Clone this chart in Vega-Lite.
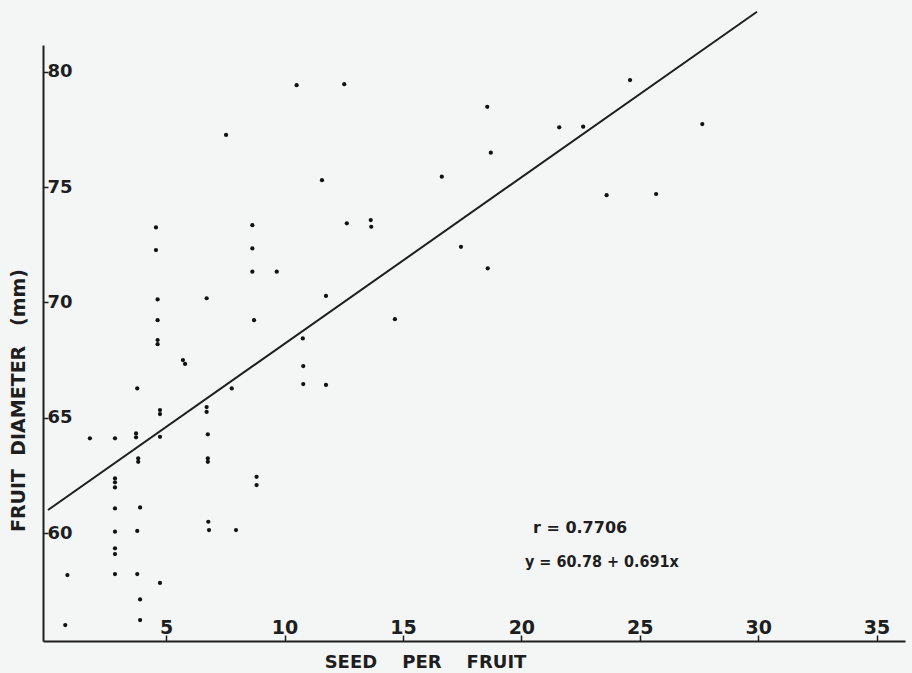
{
  "$schema": "https://vega.github.io/schema/vega-lite/v6.json",
  "autosize": "none",
  "width": 862,
  "height": 596,
  "padding": {"left": 43, "top": 45, "right": 7, "bottom": 32},
  "background": "#f4f6f5",
  "config": {"view": {"stroke": null}},
  "datasets": {
    "pts": [
      {"seeds": 4.57, "diam": 73.25}, {"seeds": 4.57, "diam": 72.27}, {"seeds": 4.64, "diam": 70.13},
      {"seeds": 4.64, "diam": 69.23}, {"seeds": 4.64, "diam": 68.37}, {"seeds": 4.64, "diam": 68.19},
      {"seeds": 5.71, "diam": 67.5}, {"seeds": 5.8, "diam": 67.33}, {"seeds": 3.78, "diam": 66.27},
      {"seeds": 4.74, "diam": 65.33}, {"seeds": 4.74, "diam": 65.16}, {"seeds": 6.71, "diam": 70.18},
      {"seeds": 6.71, "diam": 65.46}, {"seeds": 6.71, "diam": 65.25}, {"seeds": 7.77, "diam": 66.27},
      {"seeds": 8.64, "diam": 73.35}, {"seeds": 8.64, "diam": 72.34}, {"seeds": 8.64, "diam": 71.33},
      {"seeds": 9.67, "diam": 71.33}, {"seeds": 8.71, "diam": 69.23}, {"seeds": 10.77, "diam": 68.44},
      {"seeds": 10.79, "diam": 67.24}, {"seeds": 10.79, "diam": 66.46}, {"seeds": 1.78, "diam": 64.11},
      {"seeds": 2.84, "diam": 64.11}, {"seeds": 3.73, "diam": 64.32}, {"seeds": 3.73, "diam": 64.15},
      {"seeds": 4.74, "diam": 64.17}, {"seeds": 6.76, "diam": 64.28}, {"seeds": 3.82, "diam": 63.24},
      {"seeds": 3.82, "diam": 63.09}, {"seeds": 6.76, "diam": 63.24}, {"seeds": 6.76, "diam": 63.09},
      {"seeds": 2.84, "diam": 62.37}, {"seeds": 2.84, "diam": 62.2}, {"seeds": 2.84, "diam": 61.98},
      {"seeds": 8.82, "diam": 62.44}, {"seeds": 8.82, "diam": 62.08}, {"seeds": 2.84, "diam": 61.07},
      {"seeds": 3.9, "diam": 61.11}, {"seeds": 2.84, "diam": 60.06}, {"seeds": 3.78, "diam": 60.09},
      {"seeds": 6.78, "diam": 60.49}, {"seeds": 6.81, "diam": 60.13}, {"seeds": 7.95, "diam": 60.13},
      {"seeds": 2.84, "diam": 59.34}, {"seeds": 2.84, "diam": 59.09}, {"seeds": 0.83, "diam": 58.18},
      {"seeds": 2.84, "diam": 58.22}, {"seeds": 3.78, "diam": 58.22}, {"seeds": 4.74, "diam": 57.84},
      {"seeds": 3.9, "diam": 57.12}, {"seeds": 0.74, "diam": 56.01}, {"seeds": 3.9, "diam": 56.23},
      {"seeds": 10.51, "diam": 79.42}, {"seeds": 12.52, "diam": 79.46}, {"seeds": 18.56, "diam": 78.48},
      {"seeds": 18.71, "diam": 76.49}, {"seeds": 11.58, "diam": 75.3}, {"seeds": 16.64, "diam": 75.45},
      {"seeds": 12.63, "diam": 73.43}, {"seeds": 13.64, "diam": 73.57}, {"seeds": 13.66, "diam": 73.28},
      {"seeds": 17.45, "diam": 72.41}, {"seeds": 18.58, "diam": 71.48}, {"seeds": 11.75, "diam": 70.28},
      {"seeds": 14.66, "diam": 69.27}, {"seeds": 11.75, "diam": 66.42}, {"seeds": 21.6, "diam": 77.59},
      {"seeds": 22.61, "diam": 77.62}, {"seeds": 27.64, "diam": 77.73}, {"seeds": 23.6, "diam": 74.65},
      {"seeds": 25.69, "diam": 74.7}, {"seeds": 24.59, "diam": 79.64}, {"seeds": 7.53, "diam": 77.26}
    ],
    "fit": [
      {"seeds": 0.01, "diam": 61.0},
      {"seeds": 29.95, "diam": 82.6}
    ],
    "rnote": [
      {"seeds": 20.49, "diam": 60.22, "label": "r = 0.7706"}
    ],
    "eqnote": [
      {"seeds": 20.15, "diam": 58.74, "label": "y = 60.78 + 0.691x"}
    ]
  },
  "layer": [
    {
      "data": {"name": "fit"},
      "mark": {"type": "line", "color": "#1e1e1e", "strokeWidth": 2},
      "encoding": {
        "x": {
          "field": "seeds", "type": "quantitative",
          "scale": {"domain": [-0.2, 36.2], "nice": false, "zero": false},
          "axis": {
            "orient": "bottom",
            "values": [5, 10, 15, 20, 25, 30, 35],
            "grid": false,
            "domainColor": "#1e1e1e", "domainWidth": 2,
            "tickColor": "#1e1e1e", "tickWidth": 1.5, "tickSize": -6,
            "labelFont": "DejaVu Sans", "labelFontWeight": "bold", "labelFontSize": 19,
            "labelColor": "#1e1e1e", "labelBaseline": "alphabetic", "labelPadding": -2,
            "labelFlush": false,
            "title": "SEED\u00a0\u00a0\u00a0\u00a0PER\u00a0\u00a0\u00a0\u00a0FRUIT",
            "titleFont": "DejaVu Sans", "titleFontWeight": "bold", "titleFontSize": 18,
            "titleColor": "#1e1e1e",
            "titleX": 382, "titleY": 21, "titleAlign": "center", "titleBaseline": "middle"
          }
        },
        "y": {
          "field": "diam", "type": "quantitative",
          "scale": {"domain": [55.32, 81.16], "nice": false, "zero": false},
          "axis": {
            "orient": "left",
            "values": [60, 65, 70, 75, 80],
            "grid": false,
            "domainColor": "#1e1e1e", "domainWidth": 2,
            "tickColor": "#1e1e1e", "tickWidth": 1.5, "tickSize": -5,
            "labelFont": "DejaVu Sans", "labelFontWeight": "bold", "labelFontSize": 18,
            "labelColor": "#1e1e1e", "labelAlign": "left", "labelBaseline": "middle", "labelPadding": 1,
            "labelFlush": false,
            "title": "FRUIT\u00a0\u00a0DIAMETER\u00a0\u00a0\u00a0(mm)",
            "titleFont": "DejaVu Sans", "titleFontWeight": "bold", "titleFontSize": 19,
            "titleColor": "#1e1e1e",
            "titleX": -25, "titleY": 355, "titleAngle": 270, "titleAlign": "center", "titleBaseline": "middle"
          }
        }
      }
    },
    {
      "data": {"name": "pts"},
      "mark": {"type": "circle", "color": "#111", "size": 18, "opacity": 1},
      "encoding": {
        "x": {"field": "seeds", "type": "quantitative"},
        "y": {"field": "diam", "type": "quantitative"}
      }
    },
    {
      "data": {"name": "rnote"},
      "mark": {"type": "text", "align": "left", "baseline": "middle", "font": "DejaVu Sans", "fontWeight": "bold", "fontSize": 16, "color": "#1e1e1e"},
      "encoding": {
        "x": {"field": "seeds", "type": "quantitative"},
        "y": {"field": "diam", "type": "quantitative"},
        "text": {"field": "label"}
      }
    },
    {
      "data": {"name": "eqnote"},
      "mark": {"type": "text", "align": "left", "baseline": "middle", "font": "DejaVu Sans Condensed, DejaVu Sans", "fontWeight": "bold", "fontSize": 16, "color": "#1e1e1e"},
      "encoding": {
        "x": {"field": "seeds", "type": "quantitative"},
        "y": {"field": "diam", "type": "quantitative"},
        "text": {"field": "label"}
      }
    }
  ]
}
